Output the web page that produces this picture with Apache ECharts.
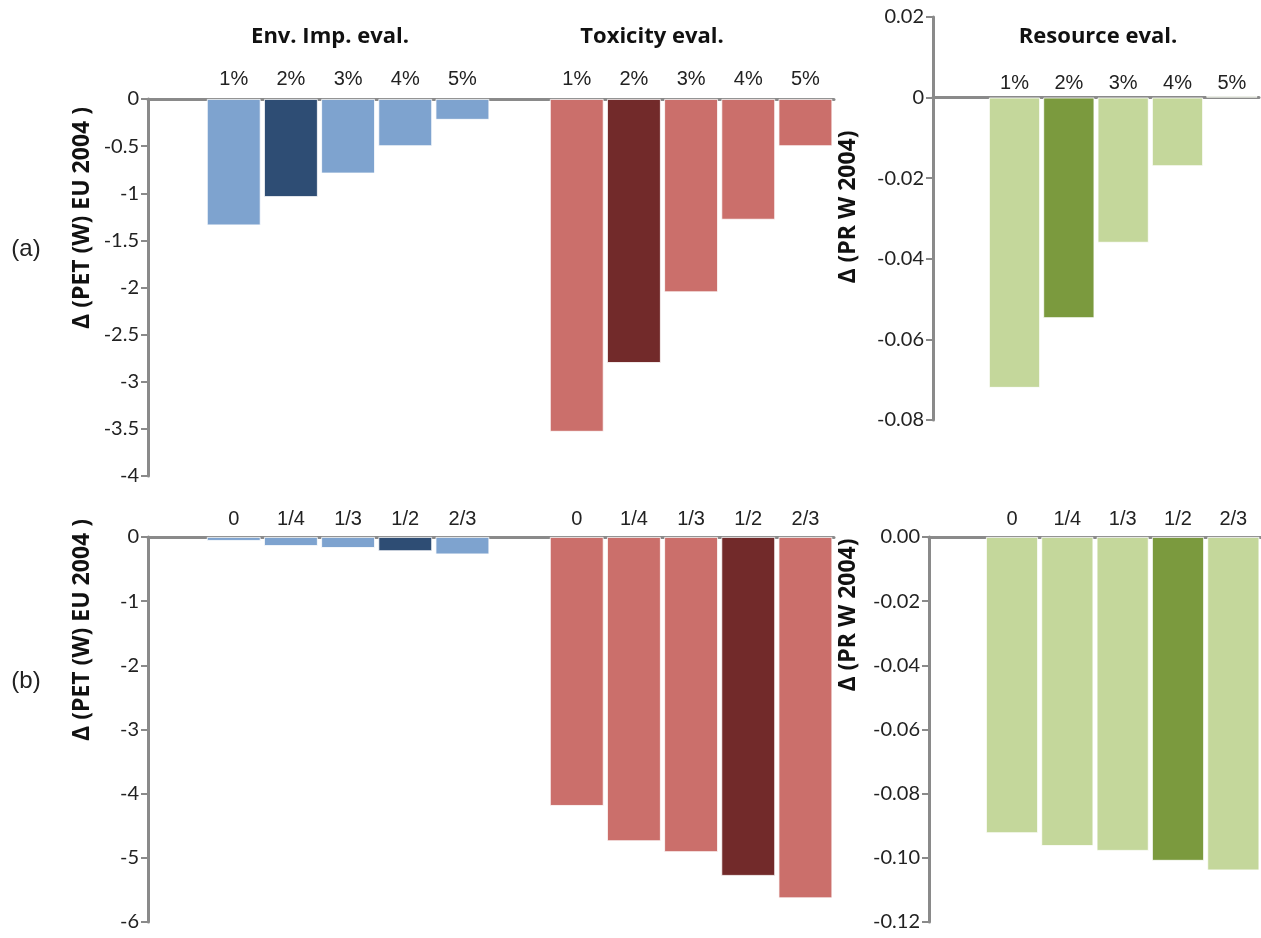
<!DOCTYPE html>
<html lang="en">
<head>
    <meta charset="UTF-8">
    <title>Delta PET / PR</title>
    <script src="https://cdn.jsdelivr.net/npm/echarts@6/dist/echarts.min.js"></script>
    <style>
        html, body { margin: 0; padding: 0; background: #fff; }
        #chart { width: 1261px; height: 938px; }
    </style>
</head>
<body>
<div id="chart"></div>
<script>
    // ---- data ----
    var pctLabels = ['1%', '2%', '3%', '4%', '5%'];
    var fracLabels = ['0', '1/4', '1/3', '1/2', '2/3'];

    // (a) row
    var envA = [-1.34, -1.04, -0.79, -0.50, -0.22];
    var toxA = [-3.53, -2.80, -2.05, -1.28, -0.50];
    var resA = [-0.072, -0.0547, -0.036, -0.017, 0.0004];
    // (b) row
    var envB = [-0.06, -0.14, -0.17, -0.22, -0.27];
    var toxB = [-4.19, -4.74, -4.91, -5.28, -5.63];
    var resB = [-0.0923, -0.0963, -0.0978, -0.1009, -0.1039];

    // which bar of each group is the dark one
    var darkA = 1;   // 2%
    var darkB = 3;   // 1/2

    var colors = {
        env: ['#7ea3cf', '#2e4d74'],
        tox: ['#cb6f6b', '#722a2a'],
        res: ['#c4d79b', '#7b9a3e']
    };

    var axisGray = '#8a8a8a';
    var tickFont = 'Lato, "Open Sans", sans-serif';
    var catFont = '"Liberation Sans", Arial, sans-serif';
    var boldFont = '"Open Sans", sans-serif';

    // one empty slot, five bars, one empty slot, five bars
    function leftLabels(lbls) {
        return [''].concat(lbls, [''], lbls);
    }
    function paint(vals, pal, dark) {
        return vals.map(function (v, i) {
            return { value: v, itemStyle: { color: pal[i === dark ? 1 : 0] } };
        });
    }
    function leftData(env, tox, dark) {
        return [null].concat(paint(env, colors.env, dark), [null], paint(tox, colors.tox, dark));
    }
    function rightData(res, dark) {
        return [null].concat(paint(res, colors.res, dark));
    }

    function xAxis(grid, lbls, margin, showLabel, showLine) {
        return {
            type: 'category',
            gridIndex: grid,
            position: 'top',
            data: lbls.map(function (l, i) { return 's' + i; }),
            axisLine: { show: showLine, onZero: true, lineStyle: { color: axisGray, width: 3 } },
            axisTick: { show: false },
            axisLabel: {
                show: showLabel, interval: 0, margin: margin, fontSize: 20, color: '#222', fontFamily: catFont,
                formatter: function (v, i) { return lbls[i]; }
            },
            splitLine: { show: false }
        };
    }
    function yAxis(grid, min, max, step, fmt) {
        return {
            type: 'value',
            gridIndex: grid,
            min: min, max: max, interval: step,
            axisLine: { show: true, lineStyle: { color: axisGray, width: 3 } },
            axisTick: { show: true, length: 7, lineStyle: { color: axisGray, width: 2 } },
            axisLabel: { fontSize: 20, color: '#222', fontFamily: tickFont, margin: 9, formatter: fmt },
            splitLine: { show: false }
        };
    }
    function bars(xi, yi, data) {
        return {
            type: 'bar',
            xAxisIndex: xi,
            yAxisIndex: yi,
            data: data,
            barCategoryGap: '6%',
            itemStyle: { borderColor: '#fff', borderWidth: 0.8 },
            silent: true
        };
    }
    function rotName(text, x, y) {
        return { type: 'text', x: x, y: y, rotation: Math.PI / 2,
                 style: { text: text, font: 'bold 23px ' + boldFont, fill: '#111', align: 'center', verticalAlign: 'middle' } };
    }

    var topL = leftLabels(pctLabels);
    var botL = leftLabels(fracLabels);
    var topR = [''].concat(pctLabels);
    var botR = [''].concat(fracLabels);

    var chart = echarts.init(document.getElementById('chart'));
    var option = {
        animation: false,
        backgroundColor: '#fff',
        grid: [
            { left: 148, top: 99, width: 686, height: 377 },
            { left: 933, top: 17, width: 326, height: 403 },
            { left: 148, top: 537, width: 686, height: 385 },
            { left: 929, top: 537, width: 332, height: 385 },
            // label strip for the resource (a) panel, whose zero line sits inside its grid
            { left: 933, top: 98, width: 326, height: 322 }
        ],
        xAxis: [
            xAxis(0, topL, 10, true, true),
            xAxis(1, topR, 6, false, true),
            xAxis(2, botL, 8, true, true),
            xAxis(3, botR, 8, true, true),
            xAxis(4, topR, 5, true, false)
        ],
        yAxis: [
            yAxis(0, -4, 0, 0.5),
            yAxis(1, -0.08, 0.02, 0.02, function (v) { return Math.abs(v) < 1e-9 ? '0' : v.toFixed(2); }),
            yAxis(2, -6, 0, 1),
            yAxis(3, -0.12, 0, 0.02, function (v) { return Math.abs(v) < 1e-9 ? '0.00' : v.toFixed(2); }),
            { type: 'value', gridIndex: 4, show: false, min: -1, max: 0 }
        ],
        series: [
            bars(0, 0, leftData(envA, toxA, darkA)),
            bars(1, 1, rightData(resA, darkA)),
            bars(2, 2, leftData(envB, toxB, darkB)),
            bars(3, 3, rightData(resB, darkB))
        ],
        graphic: [
            { type: 'text', x: 330, y: 37, style: { text: 'Env. Imp. eval.', font: 'bold 22px ' + boldFont, fill: '#111', align: 'center', verticalAlign: 'middle' } },
            { type: 'text', x: 652, y: 37, style: { text: 'Toxicity eval.', font: 'bold 22px ' + boldFont, fill: '#111', align: 'center', verticalAlign: 'middle' } },
            { type: 'text', x: 1098, y: 37, style: { text: 'Resource eval.', font: 'bold 22px ' + boldFont, fill: '#111', align: 'center', verticalAlign: 'middle' } },
            { type: 'text', x: 26, y: 249, style: { text: '(a)', font: '24px "Liberation Sans", sans-serif', fill: '#222', align: 'center', verticalAlign: 'middle' } },
            { type: 'text', x: 26, y: 681, style: { text: '(b)', font: '24px "Liberation Sans", sans-serif', fill: '#222', align: 'center', verticalAlign: 'middle' } },
            rotName('Δ (PET (W) EU 2004 )', 82, 218),
            rotName('Δ (PET (W) EU 2004 )', 82, 630),
            rotName('Δ (PR W 2004)', 848, 207),
            rotName('Δ (PR W 2004)', 848, 615)
        ]
    };
    chart.setOption(option);
</script>
</body>
</html>
